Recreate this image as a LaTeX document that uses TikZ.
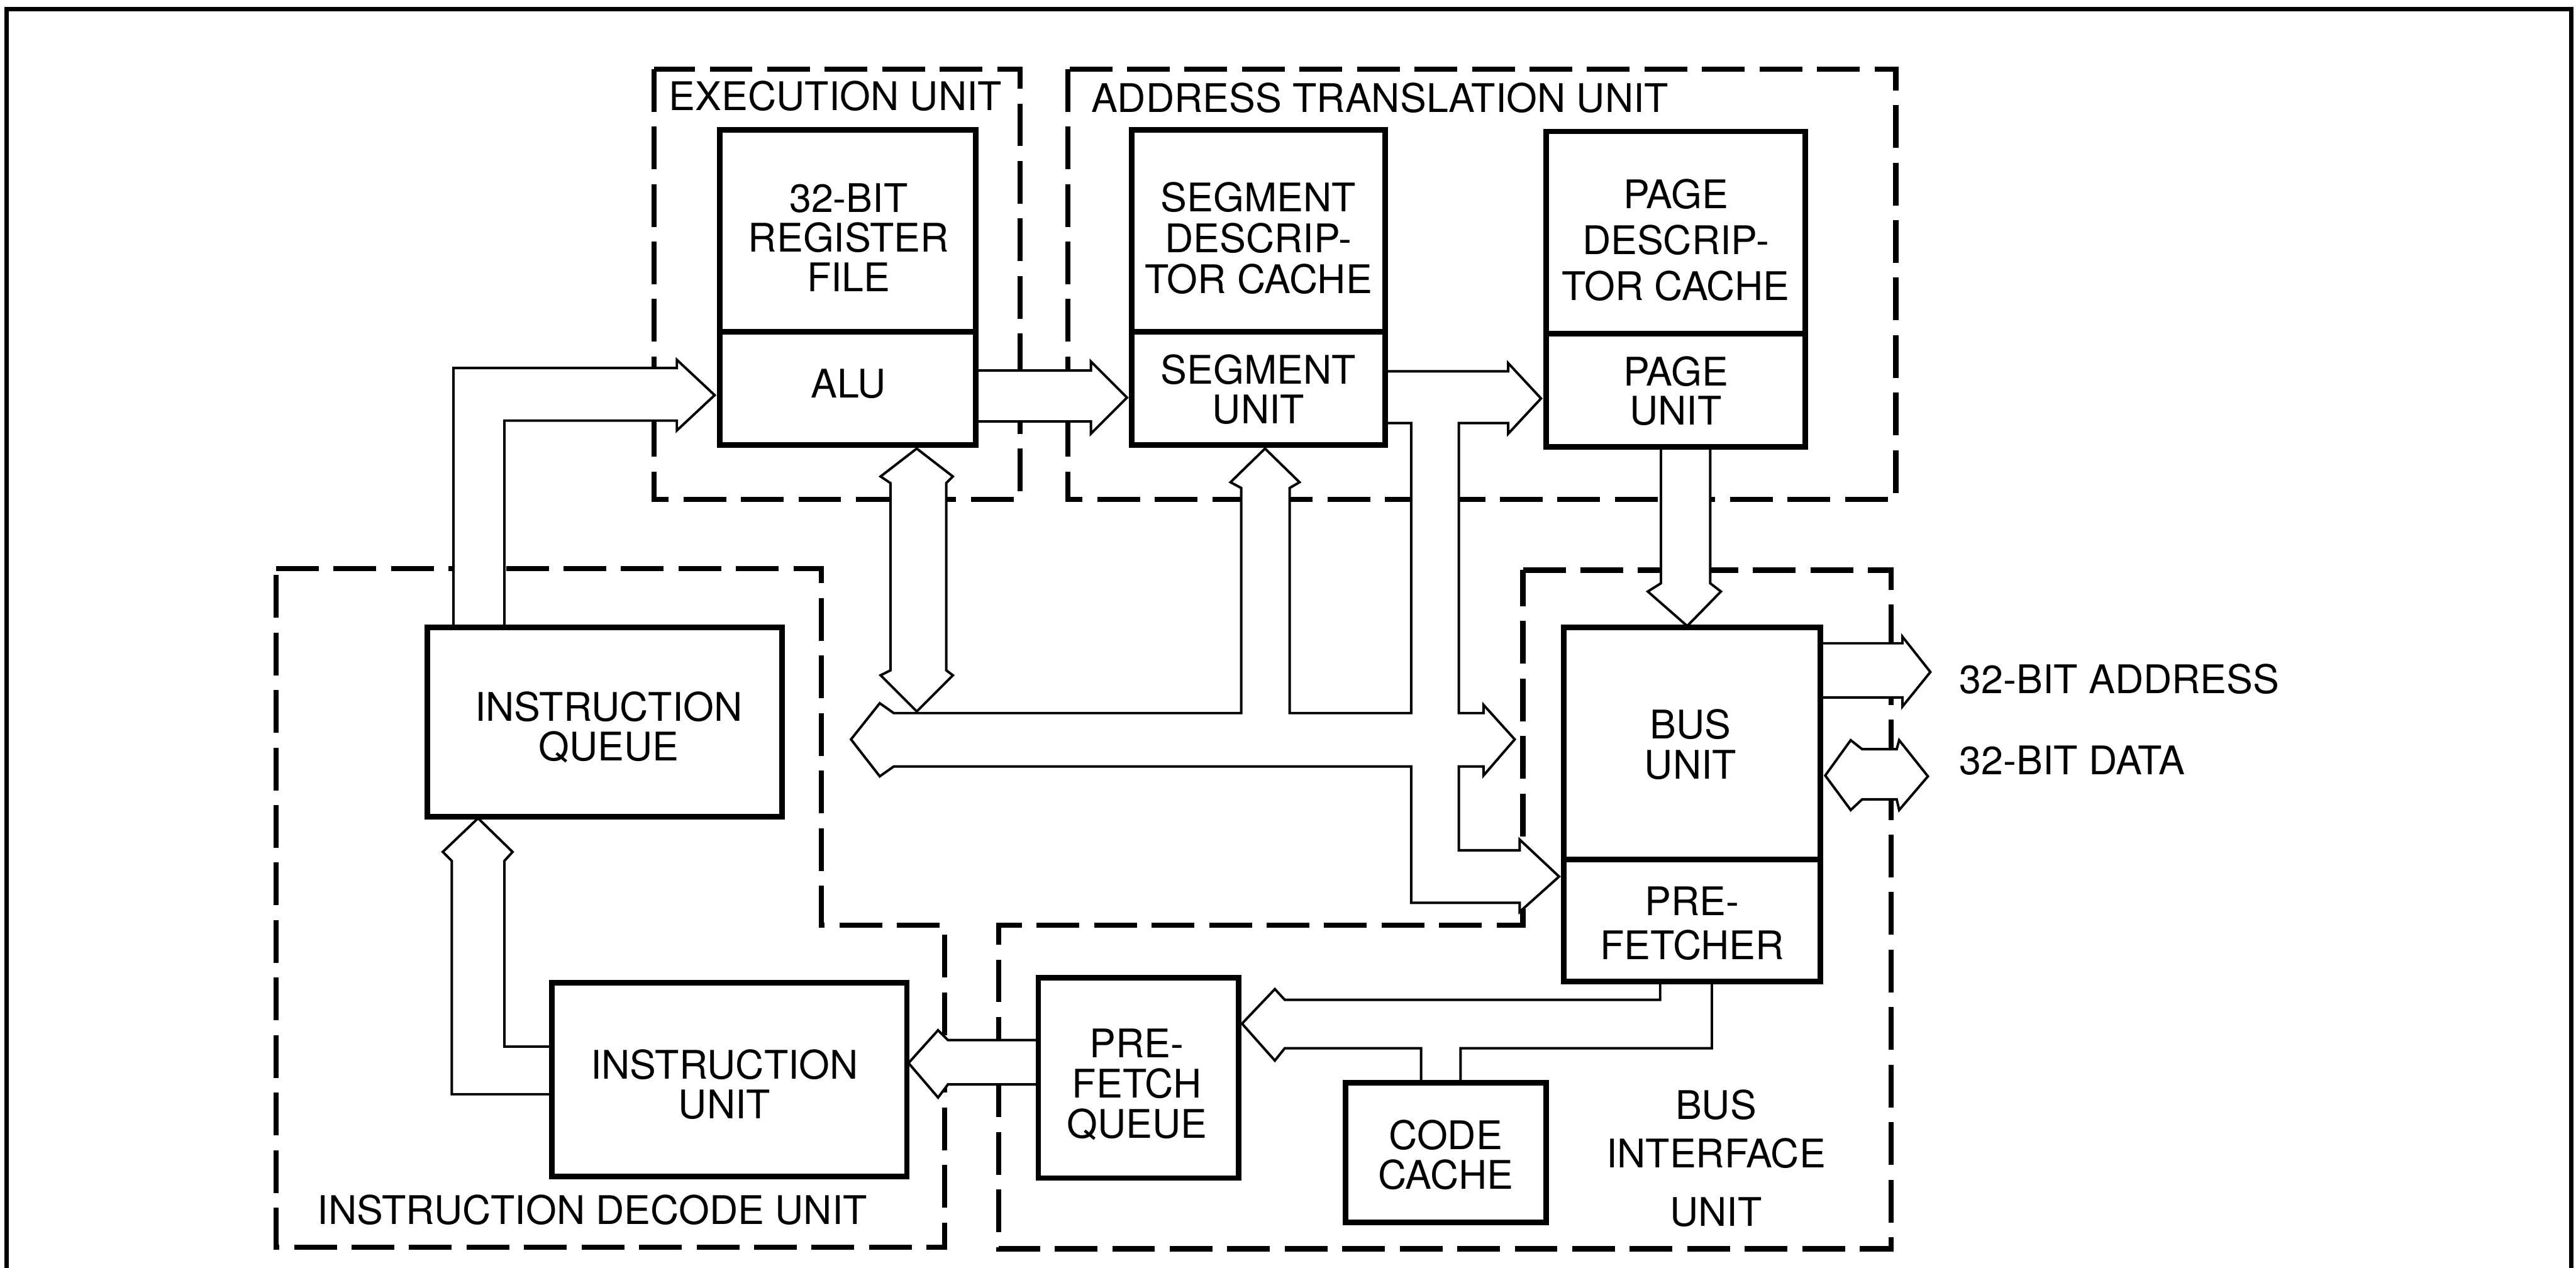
\documentclass[tikz,border=0pt]{standalone}
\usepackage{fontspec}
\setmainfont{TeX Gyre Heros}
\usetikzlibrary{fit}
\begin{document}
\begin{tikzpicture}[x=1pt,y=-1pt,
  frame/.style={draw, line width=2.8pt},
  unitbox/.style={draw, line width=3.2pt, dash pattern=on 26pt off 9pt},
  fat/.style={draw, fill=white, line width=1.5pt, line join=miter},
  blk/.style={draw, fill=white, line width=3.4pt, inner sep=0pt},
  txt/.style={align=center, inner sep=0pt, font=\fontsize{24}{24}\selectfont},
  lbl/.style={inner sep=0pt, anchor=base west, font=\fontsize{24}{24}\selectfont}]
\useasboundingbox (0,0) rectangle (1568,771.5);

% outer frame
\draw[frame] (4,790) -- (4,5.5) -- (1565,5.5) -- (1565,790);

% functional unit outlines
\draw[unitbox] (398,42) rectangle (621,304);
\draw[unitbox] (650,42) rectangle (1154,304);
\draw[unitbox] (168,346) -- (500,346) -- (500,563) -- (575,563) -- (575,759) -- (168,759) -- cycle;
\draw[unitbox] (927,347) -- (1151,347) -- (1151,760) -- (608,760) -- (608,563) -- (927,563) -- cycle;

\node[lbl] (eulbl) at (407,67) {EXECUTION UNIT};
\node[lbl] (atulbl) at (664,68.5) {ADDRESS TRANSLATION UNIT};
\node[lbl] (idulbl) at (193,745) {INSTRUCTION DECODE UNIT};
\node[lbl] (addrlbl) at (1192.5,422) {32-BIT ADDRESS};
\node[lbl] (datalbl) at (1192.5,471.5) {32-BIT DATA};

% fat arrows
% instruction queue -> ALU
\path[fat] (276,382) -- (276,224) -- (412,224) -- (412,219) -- (435,240.5) -- (412,262) -- (412,256) -- (307,256) -- (307,382) -- cycle;
% ALU -> segment unit
\path[fat] (594,225.5) -- (664,225.5) -- (664,220) -- (686,242) -- (664,264) -- (664,256.5) -- (594,256.5) -- cycle;
% segment unit -> page unit, internal bus, bus unit, prefetcher
\path[fat] (843,226) -- (918,226) -- (918,221) -- (938,242.5) -- (918,264) -- (918,257.5)
  -- (888,257.5) -- (888,434) -- (903,434) -- (903,429) -- (922,450) -- (903,472) -- (903,466.5)
  -- (888,466.5) -- (888,517.5) -- (925,517.5) -- (925,511) -- (949,533.5) -- (925,555) -- (925,549.5)
  -- (859,549.5) -- (859,466.5) -- (544,466.5) -- (535.5,472.5) -- (518,450) -- (535.5,428) -- (544,434)
  -- (755.5,434) -- (755.5,297) -- (749,293.5) -- (770,273) -- (791,293.5) -- (785,297) -- (785,434)
  -- (859,434) -- (859,257.5) -- (843,257.5) -- cycle;
% ALU <-> internal bus
\path[fat] (542,294) -- (536,290) -- (558,273) -- (580,290) -- (576,294) -- (576,408) -- (580,411)
  -- (558,433) -- (536,411) -- (542,408) -- cycle;
% page unit -> bus unit
\path[fat] (1011,272) -- (1011,355) -- (1003,360) -- (1027,381) -- (1047.5,360) -- (1041,355) -- (1041,272) -- cycle;
% bus unit -> 32-bit address
\path[fat] (1108,391.5) -- (1158,391.5) -- (1158,387.5) -- (1175,409) -- (1158,430) -- (1158,424.5) -- (1108,424.5) -- cycle;
% bus unit <-> 32-bit data
\path[fat] (1111,472) -- (1126.5,450.5) -- (1133.5,456) -- (1154.5,456) -- (1156,450.5) -- (1173.5,472.5)
  -- (1156,493) -- (1154.5,486.5) -- (1133.5,486.5) -- (1126.5,493) -- cycle;
% instruction unit -> instruction queue
\path[fat] (336,666) -- (275,666) -- (275,524) -- (269.5,518.5) -- (291,498) -- (312,518.5) -- (307,524)
  -- (307,637) -- (336,637) -- cycle;
% prefetch queue -> instruction unit
\path[fat] (632,633) -- (577,633) -- (571,627) -- (553,647) -- (571,668) -- (577,660) -- (632,660) -- cycle;
% prefetcher -> prefetch queue (with code cache)
\path[fat] (1010.5,597) -- (1010.5,608.5) -- (782,608.5) -- (776,602) -- (756,623) -- (776,645.5) -- (782,638)
  -- (865,638) -- (865,659) -- (889,659) -- (889,638) -- (1042,638) -- (1042,597) -- cycle;

% blocks
\node[blk, fit={(438,79) (594,202)}] (rf) {};
\node[blk, fit={(438,202) (594,271)}] (alu) {};
\node[blk, fit={(689,79) (843,202)}] (sdc) {};
\node[blk, fit={(689,202) (843,271)}] (segu) {};
\node[blk, fit={(941,80) (1099,203)}] (pdc) {};
\node[blk, fit={(941,203) (1099,272)}] (pgu) {};
\node[blk, fit={(952,382) (1108,523)}] (busu) {};
\node[blk, fit={(952,523) (1108,597.5)}] (pref) {};
\node[blk, fit={(260,382) (476,497)}] (iq) {};
\node[blk, fit={(336,598) (552,716)}] (iu) {};
\node[blk, fit={(632,595) (754,717)}] (pfq) {};
\node[blk, fit={(819,659) (941,744)}] (cc) {};

% block texts
\node[txt] (rft) at (516.5,144.6) {32-BIT\\REGISTER\\FILE};
\node[txt] (alut) at (516.5,233.5) {ALU};
\node[txt, font=\fontsize{24}{25}\selectfont] (sdct) at (766,145) {SEGMENT\\DESCRIP-\\TOR CACHE};
\node[txt] (segut) at (766,237) {SEGMENT\\UNIT};
\node[txt, font=\fontsize{24}{28}\selectfont] (pdct) at (1020,146) {PAGE\\DESCRIP-\\TOR CACHE};
\node[txt] (pgut) at (1020,238) {PAGE\\UNIT};
\node[txt, font=\fontsize{24}{24.5}\selectfont] (busut) at (1029,453) {BUS\\UNIT};
\node[txt, font=\fontsize{24}{27}\selectfont] (preft) at (1030,562) {PRE-\\FETCHER};
\node[txt] (iqt) at (370.5,442.6) {INSTRUCTION\\QUEUE};
\node[txt] (iut) at (441,660) {INSTRUCTION\\UNIT};
\node[txt, font=\fontsize{24}{24.4}\selectfont] (pfqt) at (692,660) {PRE-\\FETCH\\QUEUE};
\node[txt] (cct) at (880,703) {CODE\\CACHE};
\node[txt] (biu1) at (1044.5,672.3) {BUS};
\node[txt] (biu2) at (1044.5,702) {INTERFACE};
\node[txt] (biu3) at (1044.5,737.7) {UNIT};
\end{tikzpicture}
\end{document}
